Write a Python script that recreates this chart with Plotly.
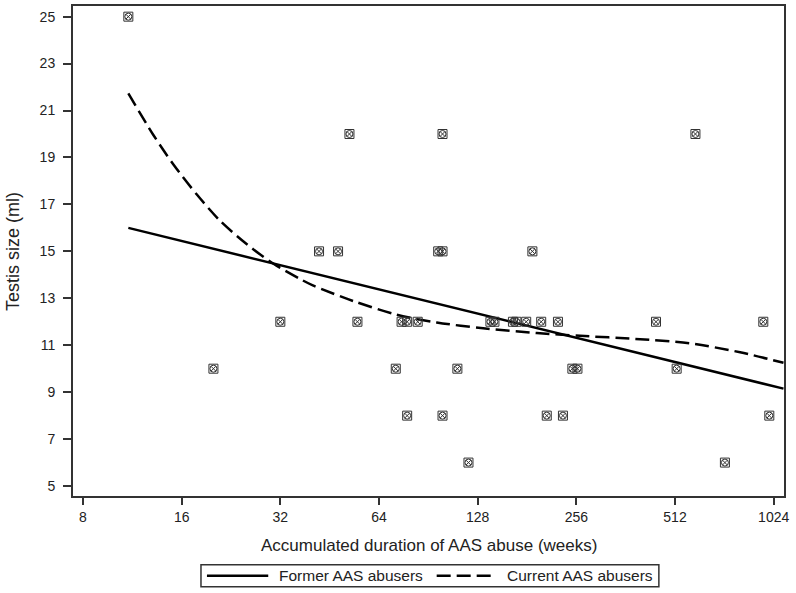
import plotly.graph_objects as go

# ---- data ----
duration_weeks = [11, 20, 32, 42, 48, 52, 55, 72, 75, 78, 78, 84, 97, 100, 100, 100,
                  111, 120, 140, 144, 164, 168, 180, 188, 200, 208, 225, 233, 249, 258,
                  448, 518, 591, 727, 952, 993]
testis_ml = [25, 10, 12, 15, 15, 20, 12, 10, 12, 12, 8, 12, 15, 15, 20, 8,
             10, 6, 12, 12, 12, 12, 12, 15, 12, 8, 12, 8, 10, 10,
             12, 10, 20, 6, 12, 8]

former_x = [11, 1097]
former_y = [16.0, 9.15]

current_x = [11, 13.1, 15.1, 17.8, 21, 25.3, 30.5, 36.8, 40.2, 53.5, 72.5, 96,
             133, 194, 263, 388, 568, 809, 1097]
current_y = [21.73, 19.97, 18.70, 17.42, 16.29, 15.30, 14.47, 13.82, 13.55, 12.88,
             12.30, 11.97, 11.72, 11.52, 11.40, 11.27, 11.08, 10.70, 10.25]

x_ticks = [8, 16, 32, 64, 128, 256, 512, 1024]
y_ticks = [5, 7, 9, 11, 13, 15, 17, 19, 21, 23, 25]

x_title = "Accumulated duration of AAS abuse (weeks)"
y_title = "Testis size (ml)"
legend_labels = ["Former AAS abusers", "Current AAS abusers"]

INK = "#222222"
FONT = "Liberation Sans, Arial, sans-serif"

fig = go.Figure()

fig.add_trace(go.Scatter(x=former_x, y=former_y, mode="lines",
                         line=dict(color="black", width=2.5),
                         name=legend_labels[0], showlegend=False))
fig.add_trace(go.Scatter(x=current_x, y=current_y, mode="lines",
                         line=dict(color="black", width=2.5, dash="14px,6px",
                                   shape="spline", smoothing=0.8),
                         name=legend_labels[1], showlegend=False))
fig.add_trace(go.Scatter(x=duration_weeks, y=testis_ml, mode="markers",
                         marker=dict(symbol="square-open", size=9, color="#333333",
                                     line=dict(color="#333333", width=1)),
                         showlegend=False, hoverinfo="x+y"))
fig.add_trace(go.Scatter(x=duration_weeks, y=testis_ml, mode="markers",
                         marker=dict(symbol="circle-x-open", size=7, color="#333333",
                                     line=dict(color="#333333", width=1)),
                         showlegend=False, hoverinfo="skip"))

axis_common = dict(showgrid=False, zeroline=False, showline=True, mirror=True,
                   linecolor="#333333", linewidth=2, ticks="outside",
                   tickcolor="#333333", tickwidth=1.5,
                   tickfont=dict(family=FONT, size=14, color=INK))

fig.update_xaxes(type="log", range=[0.8726, 3.0418],
                 tickvals=x_ticks, ticktext=[str(v) for v in x_ticks],
                 ticklen=7, **axis_common)
fig.update_yaxes(range=[4.576, 25.454], tickvals=y_ticks,
                 ticktext=[str(v) for v in y_ticks], ticklen=8,
                 ticklabelstandoff=5, **axis_common)

# axis titles
fig.add_annotation(text=x_title, xref="paper", yref="paper", x=0.5, y=-0.1016,
                   xanchor="center", yanchor="middle", showarrow=False,
                   font=dict(family=FONT, size=17, color=INK))
fig.add_annotation(text=y_title, xref="paper", yref="paper", x=-0.0845, y=0.5,
                   xanchor="center", yanchor="middle", textangle=-90,
                   showarrow=False, font=dict(family=FONT, size=18, color=INK))

# legend box drawn below the plot
ly = -0.1626
fig.add_shape(type="rect", xref="paper", yref="paper", x0=0.180, x1=0.824,
              y0=-0.185, y1=-0.1402, line=dict(color="#333333", width=1.5),
              fillcolor="white")
fig.add_shape(type="line", xref="paper", yref="paper", x0=0.1884, x1=0.2746,
              y0=ly, y1=ly, line=dict(color="black", width=2.5))
fig.add_shape(type="line", xref="paper", yref="paper", x0=0.5115, x1=0.5888,
              y0=ly, y1=ly, line=dict(color="black", width=2.5, dash="14px,6px"))
fig.add_annotation(text=legend_labels[0], xref="paper", yref="paper", x=0.2867, y=ly,
                   xanchor="left", yanchor="middle", showarrow=False,
                   font=dict(family=FONT, size=15.5, color=INK))
fig.add_annotation(text=legend_labels[1], xref="paper", yref="paper", x=0.6075, y=ly,
                   xanchor="left", yanchor="middle", showarrow=False,
                   font=dict(family=FONT, size=15.5, color=INK))

fig.update_layout(width=796, height=593, paper_bgcolor="white", plot_bgcolor="white",
                  margin=dict(l=73, r=12, t=4, b=97), showlegend=False,
                  font=dict(family=FONT, color=INK))

fig.write_html("out.html", config={"displayModeBar": False},
               post_script="document.body.style.margin='0';document.body.style.padding='0';document.body.style.overflow='hidden';")
